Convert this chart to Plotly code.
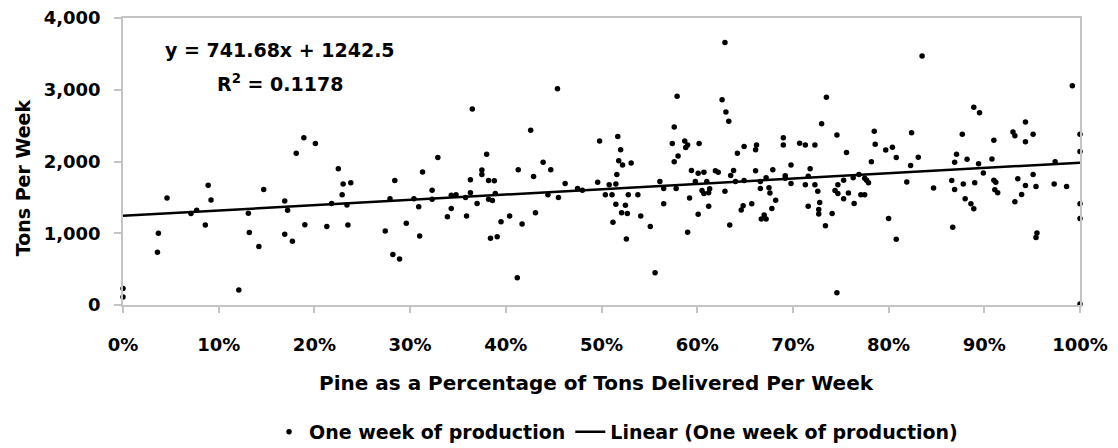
import numpy as np
import plotly.graph_objects as go

# Pine share of tons delivered per week (%) and tons per week
pine_pct = [
    0, 0, 4.6, 3.7, 3.6, 7.1, 7.7, 8.6, 8.9, 9.2, 12.1,
    13.1, 13.2, 14.2, 14.7, 16.9, 17.2, 16.9, 17.7, 18.1, 18.9, 20.1, 19.0, 21.3, 21.8, 22.5, 23.0, 22.9, 23.8, 23.4, 23.5,
    27.4, 27.9, 28.4, 28.2, 28.9, 29.6, 30.4, 30.9, 31.0, 31.3, 32.3, 32.3, 32.9, 33.9, 34.3, 34.3, 34.8, 35.9, 35.8, 36.3, 36.3, 36.5, 37.0,
    37.5, 37.5, 38.0, 38.2, 38.8, 38.9, 38.2, 38.6, 39.5, 38.4, 39.1, 40.4, 41.3, 41.7, 41.2, 42.6, 42.9, 43.1, 43.9, 44.4, 44.7, 45.4, 45.5, 46.2, 47.5, 48.0, 49.6, 49.8,
    50.4, 50.8, 51.1, 51.5, 51.6, 51.2, 51.5, 51.7, 52.0, 51.8, 52.2, 52.1, 52.5, 52.7, 52.6, 52.8, 53.1, 53.8, 54.1, 55.1, 55.6, 56.1, 56.5, 56.5,
    57.4, 57.6, 57.6, 58.0, 57.9, 57.8, 58.7, 59.0, 58.8, 59.2, 59.0, 59.4, 59.8, 60.1, 60.2, 60.1, 60.5, 60.7, 60.7, 61.0, 61.2, 61.3, 61.2, 61.9, 62.2,
    62.9, 62.6, 63.0, 63.3, 62.9, 63.4, 63.5, 63.8, 64.0, 64.2, 64.9, 64.9, 64.6, 64.8, 65.7, 66.1, 66.1, 66.2, 66.6, 66.6, 66.7, 67.0, 67.2, 67.2,
    67.5, 67.6, 67.9, 67.8, 68.2, 69.0, 69.0, 69.2, 69.2, 69.8, 69.8, 70.7, 71.3, 71.3, 71.8, 71.6, 71.6, 72.3, 72.3, 72.6, 72.8, 72.7, 72.7, 73.0,
    73.4, 73.5, 74.1, 74.4, 74.6, 74.7, 74.7, 74.6,
    75.3, 75.6, 75.3, 75.8, 76.3, 76.4, 76.9, 77.1, 77.5, 77.5, 77.7, 77.9, 78.2, 78.5, 78.6, 79.7, 80.4, 80.8, 80.0, 80.8, 81.9, 82.3, 82.4, 83.1,
    83.5, 84.7, 86.6, 86.9, 86.9, 87.1, 86.7,
    87.7, 88.2, 87.8, 88.0, 88.6, 88.9, 88.9, 89.5, 89.0, 89.4, 89.9, 90.8, 91.0, 91.0, 91.2, 91.1, 91.4, 93.0, 93.2, 93.5, 93.9, 93.2, 94.3, 94.3,
    94.3, 95.1, 95.1, 95.4, 95.5, 95.4, 97.3, 97.4, 98.6, 99.2, 100, 100, 100, 100, 100,
]
tons_per_week = [
    230, 110, 1490, 1000, 735, 1275, 1320, 1115, 1670, 1465, 210,
    1280, 1010, 815, 1610, 1450, 1320, 985, 890, 2115, 2330, 2250, 1120, 1095, 1415, 1900, 1685, 1535, 1705, 1395, 1115,
    1030, 1480, 1735, 705, 640, 1140, 1480, 1370, 960, 1855, 1600, 1475, 2055, 1230, 1345, 1530, 1535, 1240, 1500, 1565, 1745, 2730, 1415,
    1880, 1820, 2100, 1735, 1730, 1555, 1475, 1455, 1160, 930, 950, 1240, 1885, 1130, 380, 2435, 1790, 1285, 1990, 1535, 1885, 3015, 1500, 1695, 1625, 1600, 1710, 2285,
    1535, 1675, 1535, 1685, 1820, 1155, 1405, 2350, 2165, 2010, 1950, 1285, 1390, 1275, 920, 1535, 1980, 1535, 1240, 1095, 450, 1720, 1625, 1410,
    2250, 2480, 1995, 2075, 2910, 1625, 2285, 2230, 2195, 1490, 1015, 1875, 1720, 1835, 2250, 1265, 1595, 1850, 1555, 1720, 1565, 1620, 1375, 1870, 1850,
    3660, 2860, 2690, 2560, 1585, 1115, 1805, 1875, 1720, 2115, 2210, 1735, 1325, 1385, 1410, 1870, 2165, 2230, 1720, 1625, 1200, 1255, 1200, 1775,
    1635, 1560, 1885, 1345, 1460, 2330, 2230, 1800, 1765, 1695, 1950, 2255, 2230, 1675, 1900, 1795, 1375, 2230, 1675, 1585, 1430, 1330, 1270, 2525,
    1105, 2895, 1275, 1595, 2370, 1675, 1555, 170,
    1740, 2125, 1480, 1560, 1775, 1415, 1820, 1535, 1535, 1765, 1740, 1705, 1995, 2420, 2240, 2160, 2200, 2055, 1205, 915, 1715, 1945, 2400, 2060,
    3470, 1630, 1735, 1610, 1990, 2100, 1085,
    2380, 2030, 1685, 1480, 1410, 1340, 2755, 2680, 1705, 1970, 1840, 2035, 2295, 1740, 1710, 1605, 1565, 2410, 2360, 1760, 1540, 1440, 1665, 2550,
    2275, 2380, 1820, 1650, 1005, 940, 1685, 1995, 1650, 3055, 2380, 2140, 1410, 1205, 15,
]

# Linear trendline as reported on the chart
trend_slope = 741.68
trend_intercept = 1242.5
trend_r2 = 0.1178
trend_x = [0.0, 1.0]

x_ticks = [i / 10 for i in range(11)]
y_ticks = [0, 1000, 2000, 3000, 4000]

FONT = "DejaVu Sans"
GRAY = "#c4c4c4"

frac = np.array(pine_pct) / 100.0
tx = np.array(trend_x)
ty = trend_slope * tx + trend_intercept

fig = go.Figure()
fig.add_trace(go.Scatter(
    x=frac, y=tons_per_week, mode="markers", name="One week of production",
    marker=dict(color="black", size=5.5, line=dict(width=0)), cliponaxis=False,
))
fig.add_trace(go.Scatter(
    x=tx, y=ty, mode="lines", name="Linear (One week of production)",
    line=dict(color="black", width=2.5), cliponaxis=False,
))

tick_font = dict(family=FONT, size=18, color="black", weight="bold")
title_font = dict(family=FONT, size=19, color="black", weight="bold")
xtitle_font = dict(family=FONT, size=20, color="black", weight="bold")

fig.update_layout(
    width=1118, height=448,
    margin=dict(l=123, r=38, t=18, b=143, autoexpand=False),
    paper_bgcolor="white", plot_bgcolor="white",
    showlegend=True,
    legend=dict(orientation="h", xref="container", yref="container",
                x=0.551, xanchor="center", y=0.036, yanchor="middle",
                font=title_font, itemwidth=30, tracegroupgap=0),
    xaxis=dict(range=[0, 1], tickvals=x_ticks, tickformat=".0%", showgrid=False, zeroline=False,
               showline=True, mirror=True, linecolor=GRAY, linewidth=1.5,
               ticks="outside", ticklen=6, tickcolor=GRAY, tickwidth=1.5,
               tickfont=tick_font, ticklabelstandoff=17, automargin=False),
    yaxis=dict(range=[0, 4000], tickvals=y_ticks, tickformat=",d", showgrid=False, zeroline=False,
               showline=True, mirror=True, linecolor=GRAY, linewidth=1.5,
               ticks="outside", ticklen=7, tickcolor=GRAY, tickwidth=1.5,
               tickfont=tick_font, ticklabelstandoff=10, automargin=False),
    annotations=[
        dict(text=f"y = {trend_slope}x + {trend_intercept}", xref="paper", yref="paper",
             x=0.164, y=0.888, showarrow=False, font=title_font, xanchor="center", yanchor="middle"),
        dict(text=f"R<sup>2</sup> = {trend_r2}", xref="paper", yref="paper",
             x=0.164, y=0.774, showarrow=False, font=title_font, xanchor="center", yanchor="middle"),
        dict(text="Pine as a Percentage of Tons Delivered Per Week", xref="paper", yref="paper",
             x=0.495, y=-0.272, showarrow=False, font=xtitle_font, xanchor="center", yanchor="middle"),
        dict(text="Tons Per Week", xref="paper", yref="paper", textangle=-90,
             x=-0.1045, y=0.445, showarrow=False, font=title_font, xanchor="center", yanchor="middle"),
    ],
)

fig.write_html("out.html")
